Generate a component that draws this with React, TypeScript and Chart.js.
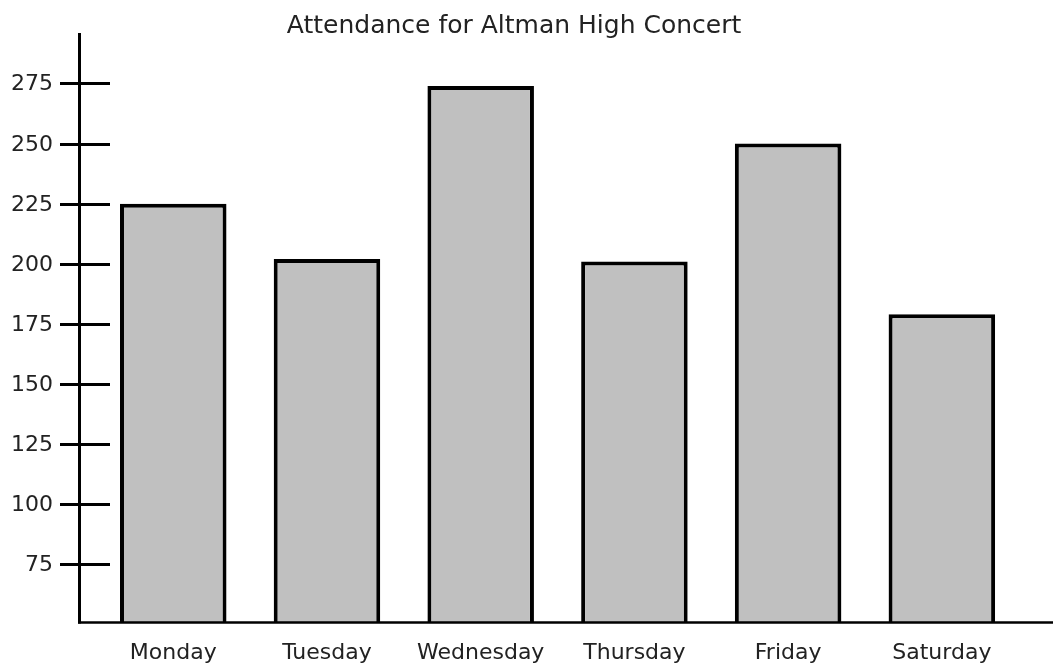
import React, { useEffect, useRef } from "react";
import { Chart, registerables } from "chart.js";

Chart.register(...registerables);

const titleText = "Attendance for Altman High Concert";
const categories = ["Monday", "Tuesday", "Wednesday", "Thursday", "Friday", "Saturday"];
const attendance = [225, 202, 274, 201, 250, 179];
const yTickValues = [75, 100, 125, 150, 175, 200, 225, 250, 275];
const yMin = 51;
const yMax = 296;

const FONT = "'DejaVu Sans', sans-serif";
const TEXT = "#222";

const axesPlugin = {
  id: "customAxes",
  afterDraw(chart: any) {
    const { ctx, scales } = chart;
    const y = scales.y;
    const ca = chart.chartArea;
    ctx.save();
    ctx.strokeStyle = "#000";
    ctx.lineCap = "butt";
    // y axis line
    const axisX = 79.5;
    ctx.lineWidth = 3;
    ctx.beginPath();
    ctx.moveTo(axisX, ca.top);
    ctx.lineTo(axisX, ca.bottom + 1.5);
    ctx.stroke();
    // x axis line
    ctx.lineWidth = 2.5;
    ctx.beginPath();
    ctx.moveTo(axisX - 1.5, ca.bottom + 0.5);
    ctx.lineTo(chart.width, ca.bottom + 0.5);
    ctx.stroke();
    // ticks + labels
    ctx.lineWidth = 3;
    ctx.fillStyle = TEXT;
    ctx.font = `22px ${FONT}`;
    ctx.textAlign = "right";
    ctx.textBaseline = "middle";
    yTickValues.forEach((v) => {
      const py = Math.round(y.getPixelForValue(v)) + 0.5;
      ctx.beginPath();
      ctx.moveTo(60, py);
      ctx.lineTo(110, py);
      ctx.stroke();
      ctx.fillText(String(v), 53, py + 1);
    });
    // title
    ctx.textAlign = "center";
    ctx.textBaseline = "middle";
    ctx.font = `25px ${FONT}`;
    ctx.fillText(titleText, 514, 26);
    ctx.restore();
  },
};

export default function App() {
  const ref = useRef<HTMLCanvasElement | null>(null);
  useEffect(() => {
    if (!ref.current) return;
    const chart = new Chart(ref.current, {
      type: "bar",
      data: {
        labels: categories,
        datasets: [
          {
            data: attendance,
            backgroundColor: "#c0c0c0",
            borderColor: "#000",
            borderWidth: 4,
            borderSkipped: false,
            barPercentage: 1,
            categoryPercentage: 0.693,
          },
        ],
      },
      options: {
        responsive: false,
        animation: false,
        layout: { padding: { left: 96.4, right: 34.3, top: 33, bottom: 0 } },
        plugins: {
          legend: { display: false },
          title: { display: false },
          tooltip: { enabled: false },
        },
        scales: {
          x: {
            grid: { display: false, drawTicks: false },
            border: { display: false },
            ticks: {
              color: TEXT,
              font: { family: FONT, size: 22 },
              padding: 18,
              maxRotation: 0,
            },
            afterFit: (s: any) => {
              s.height = 48;
            },
          },
          y: {
            display: false,
            min: yMin,
            max: yMax,
          },
        },
      },
      plugins: [axesPlugin],
    });
    return () => chart.destroy();
  }, []);
  return (
    <div style={{ position: "fixed", left: 0, top: 0, width: 1053, height: 670, background: "#fff" }}>
      <canvas ref={ref} width={1053} height={670} style={{ display: "block" }} />
    </div>
  );
}
